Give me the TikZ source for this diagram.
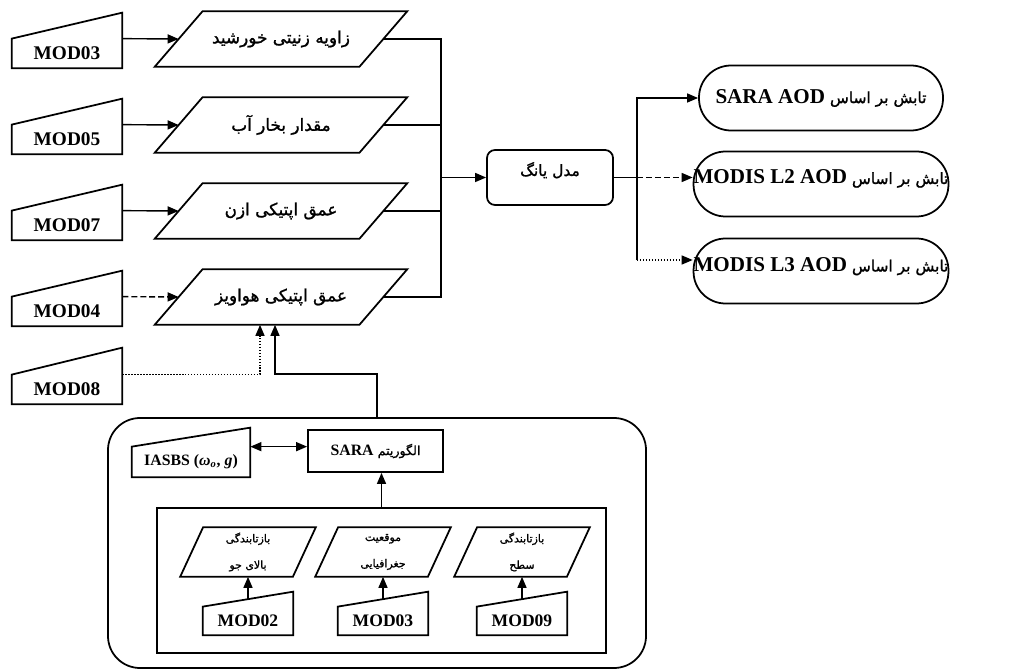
\documentclass[tikz,border=0pt]{standalone}
\usepackage{fontspec}
\setmainfont{Liberation Serif}
\newfontfamily\fa[Script=Arabic,Scale=0.8,FakeBold=1.2]{DejaVu Sans}
\TeXXeTstate=1
\usetikzlibrary{arrows.meta}
\newcommand\enb[1]{{\rmfamily\bfseries #1}}

\begin{document}
\begin{tikzpicture}[x=0.2mm, y=-0.2mm, >={Triangle[length=2.2mm,width=1.8mm]},
  conn/.style={line width=0.8pt},
  edge/.style={line width=1pt},
  dots/.style={dash pattern=on 0.8pt off 0.9pt},
  dashes/.style={dash pattern=on 3.4pt off 1.7pt},
  para/.style={minimum width=40.8mm, minimum height=11mm, inner sep=0pt, font=\fa\fontsize{12}{14}\selectfont},
  modin/.style={minimum width=22mm, minimum height=5.8mm, inner sep=0pt, font=\bfseries\fontsize{11}{13}\selectfont},
  smallpara/.style={minimum width=22.4mm, minimum height=9.8mm, inner sep=0pt, align=center, font=\fa\fontsize{7.8}{15}\selectfont},
  smallmod/.style={minimum width=18mm, minimum height=5.6mm, inner sep=0pt, font=\bfseries\fontsize{10}{12}\selectfont},
  box/.style={draw, edge, inner sep=0pt},
  output/.style={draw, edge, rounded corners=6.4mm, minimum width=48.8mm, minimum height=13mm, inner sep=0pt, font=\fontsize{12}{14}\selectfont}]

\useasboundingbox (0,0) rectangle (1016,671);

% MODIS inputs
\node[modin] (m3) at (67,53.5) {MOD03};
\node[modin] (m5) at (67,139.5) {MOD05};
\node[modin] (m7) at (67,225.5) {MOD07};
\node[modin] (m4) at (67,311.5) {MOD04};
\node[modin] (m8) at (67,389.5) {MOD08};

% parameters
\node[para] (p1) at (281,39) {\beginR زاویه زنیتی خورشید\endR};
\node[para] (p2) at (281,125) {\beginR مقدار بخار آب\endR};
\node[para] (p3) at (281,211) {\beginR عمق اپتیکی ازن\endR};
\node[para] (p4) at (281,297) {\beginR عمق اپتیکی هواویز\endR};

\node[box, rounded corners=1.6mm, minimum width=25.2mm, minimum height=11mm, font=\fa\fontsize{11}{13}\selectfont] (yang) at (550,177.5) {\raisebox{3.4mm}{\beginR مدل یانگ\endR}};
\coordinate (bus) at (441,177.5);

% outputs
\node[output] (o1) at (821,98) {\fontsize{11}{13}\fa\beginR تابش بر اساس \beginL\enb{\fontsize{12}{14}\selectfont SARA AOD}\endL\endR};
\node[output] (o2) at (821,184) {\raisebox{2.8mm}{\fontsize{11}{13}\fa\beginR تابش بر اساس \beginL\enb{\fontsize{12}{14}\selectfont MODIS L2 AOD}\endL\endR}};
\node[output] (o3) at (821,271) {\raisebox{2.6mm}{\fontsize{11}{13}\fa\beginR تابش بر اساس \beginL\enb{\fontsize{12}{14}\selectfont MODIS L3 AOD}\endL\endR}};
\coordinate (split) at (637,177.5);
\coordinate (low) at (637,260);

% SARA block
\node[draw, edge, rounded corners=6.4mm, minimum width=107.6mm, minimum height=50mm] (frame) at (377,543) {};
\node[box, minimum width=89.8mm, minimum height=29mm] (inner) at (381.5,580.5) {};
\node[box, minimum width=27mm, minimum height=8.4mm, font=\fontsize{9}{11}\selectfont] (sara) at (375.5,451) {\fa\beginR الگوریتم \beginL\enb{SARA}\endL\endR};
\node[minimum width=23.6mm, minimum height=6mm, inner sep=0pt, font=\bfseries\fontsize{9}{11}\selectfont] (iasbs) at (191,462) {IASBS (\textit{ω\textsubscript{o}}, \textit{g})};

\node[smallpara] (sp1) at (248,552) {\beginR بازتابندگی\endR\\\beginR بالای جو\endR};
\node[smallpara] (sp2) at (383,552) {\beginR موقعیت\endR\\\beginR جغرافیایی\endR};
\node[smallpara] (sp3) at (522,552) {\beginR بازتابندگی\endR\\\beginR سطح\endR};
\node[smallmod] (sm1) at (248,621) {MOD02};
\node[smallmod] (sm2) at (383,621) {MOD03};
\node[smallmod] (sm3) at (522,621) {MOD09};

% outlines
\foreach \n in {p1,p2,p3,p4}
  \draw[edge] ([xshift=-4.8mm]\n.south west) -- ([xshift=4.8mm]\n.north west) -- ([xshift=4.8mm]\n.north east) -- ([xshift=-4.8mm]\n.south east) -- cycle;
\foreach \n in {sp1,sp2,sp3}
  \draw[edge] ([xshift=-2.3mm]\n.south west) -- ([xshift=2.3mm]\n.north west) -- ([xshift=2.3mm]\n.north east) -- ([xshift=-2.3mm]\n.south east) -- cycle;
\foreach \n/\r in {m3/5.2mm,m5/5.2mm,m7/5.2mm,m4/5.2mm,m8/5.4mm,sm1/3mm,sm2/3mm,sm3/3mm,iasbs/3.8mm}
  \draw[edge] (\n.south west) -- (\n.north west) -- ([yshift=\r]\n.north east) -- (\n.south east) -- cycle;

% connectors
\draw[conn,->] (m3.north east) -- (p1.west);
\draw[conn,->] (m5.north east) -- (p2.west);
\draw[conn,->] (m7.north east) -- (p3.west);
\draw[conn,->,dashes] (m4.north east) -- (p4.west);
\draw[conn,->,dots] (m8.north east) -| ([xshift=-4.2mm]p4.south);
\draw[conn,->] (frame.north) -- ++(0,-43) -| ([xshift=-1.2mm]p4.south);

\draw[conn] (p1.east) -- (p1.east -| bus) -- (p4.east -| bus) -- (p4.east);
\draw[conn] (p2.east) -- (p2.east -| bus);
\draw[conn] (p3.east) -- (p3.east -| bus);
\draw[conn,->] (bus) -- (yang.west);

\draw[conn] (yang.east) -- (split) -- (low);
\draw[conn,->] (split) |- (o1.west);
\draw[conn,->,dashes] (split) -- (split -| o2.west);
\draw[conn,->,dots] (low) -- (low -| o3.west);

\draw[conn,->] (inner.north) -- (inner.north |- sara.south);
\draw[conn,<->] (iasbs.north east) -- (iasbs.north east -| sara.west);
\draw[conn,->] ([yshift=1.5mm]sm1.north) -- (sp1.south);
\draw[conn,->] ([yshift=1.5mm]sm2.north) -- (sp2.south);
\draw[conn,->] ([yshift=1.5mm]sm3.north) -- (sp3.south);
\end{tikzpicture}
\end{document}
